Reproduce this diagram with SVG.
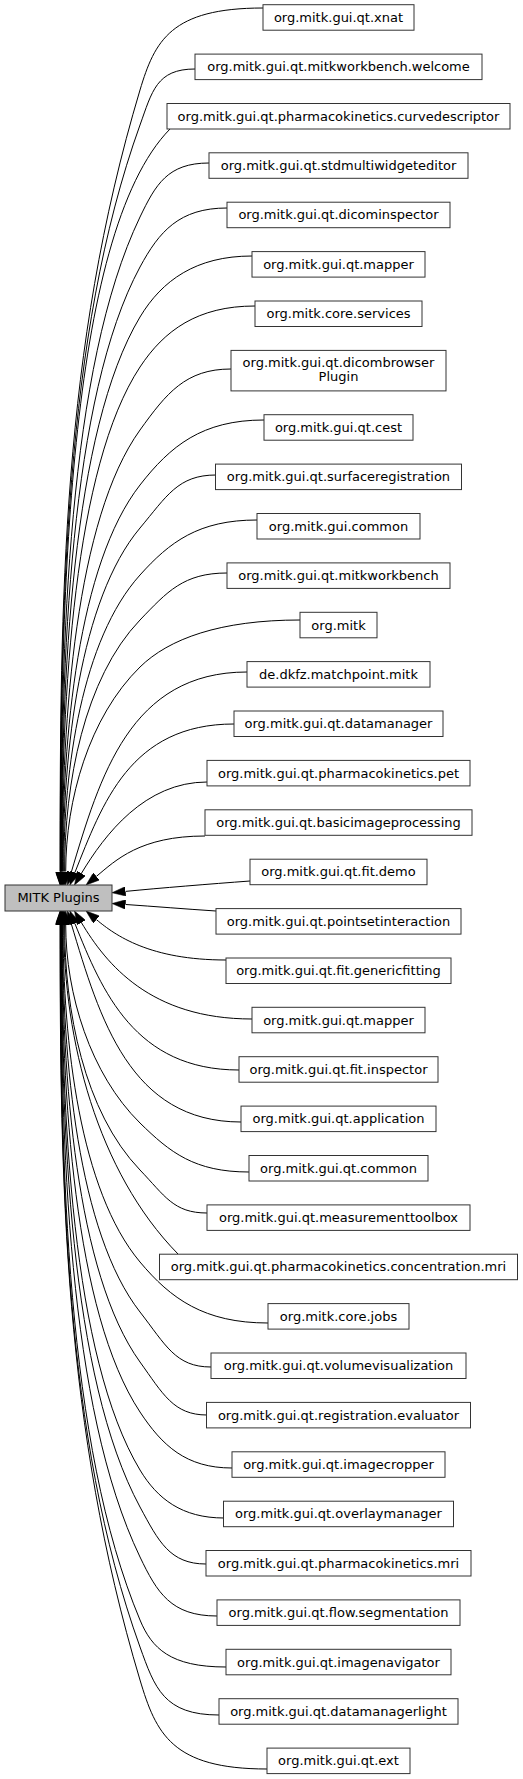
<svg xmlns="http://www.w3.org/2000/svg" width="523" height="1779" viewBox="0 0 523 1779">
<style>
.n rect{fill:#ffffff;stroke:#333333;stroke-width:1}
.n.root rect{fill:#bfbfbf}
text{font-family:"DejaVu Sans","Liberation Sans",sans-serif;font-size:13px;fill:#000000;text-anchor:middle}
.e path{fill:none;stroke:#000000;stroke-width:1;marker-end:url(#ah)}
</style>
<defs>
<marker id="ah" markerUnits="userSpaceOnUse" viewBox="0 0 13.5 9.4" refX="0" refY="4.7" markerWidth="13.5" markerHeight="9.4" orient="auto">
<path d="M0,0 L13.5,4.7 L0,9.4 z" fill="#000000" stroke="#000000" stroke-width="0.5"/>
</marker>
</defs>
<rect width="523" height="1779" fill="#ffffff"/>
<g id="connectors" class="e">
<path d="M263,8 C170.75,8 154.8,40.8 140,90 C62,350.4 60.1,598 60.1,871.5"/>
<path d="M195,69 C156.5,69 152.1,91.4 140,125 C64,336 60.3,610.2 60.3,871.5"/>
<path d="M170,129 C66,235 60.5,611.5 60.5,871.5"/>
<path d="M209,163 C167.6,163 155.6,184.6 140,217 C68,367 60.7,642.5 60.7,871.5"/>
<path d="M227,208 C179.2,208 159.1,231.6 140,267 C70,396.7 61,659.9 61,871.5"/>
<path d="M252,256 C196,256 162,280.4 140,317 C72,430.3 61.3,677.5 61.3,871.5"/>
<path d="M255,306 C197.5,306 164.2,330.4 140,367 C74,467 61.6,694.9 61.6,871.5"/>
<path d="M231,369 C185.5,369 166.4,393.4 140,430 C76,519 62,717 62,871.5"/>
<path d="M264,420 C202,420 170.4,446 140,485 C78,564.5 62.4,736.2 62.4,871.5"/>
<path d="M216,475 C178,475 166.7,496.2 140,528 C80,599.5 63,751.3 63,871.5"/>
<path d="M257,520 C198.5,520 169.7,542 140,575 C82,639.4 63.7,767.7 63.7,871.5"/>
<path d="M227,573 C183.5,573 167.1,591.8 140,620 C84,678.3 64.6,783.5 64.6,871.5"/>
<path d="M300,620 C220,620 168.8,638.8 140,667 C88.9,717.1 65.7,799.9 65.7,871.5"/>
<path d="M247,672 C130,672 100,776.3 71.3,872.1"/>
<path d="M234,724 C130,724 102.4,803.8 74.9,872.5"/>
<path d="M207,782 C145,782 104.9,834.2 81.4,873.4"/>
<path d="M205,836 C140,836 115.6,860.4 96.4,876.4"/>
<path d="M250,881 C210,884 160,888 125.45,891.4"/>
<path d="M216,911 C185,909 155,906.5 125.46,904.47"/>
<path d="M226,960 C150,960 115.6,935.6 96.4,919.6"/>
<path d="M252,1019 C150,1019 106.2,963.9 81.4,922.6"/>
<path d="M239,1070 C135,1070 102.1,991.5 74.9,923.5"/>
<path d="M241,1122 C130,1122 99.7,1018.7 71.3,923.9"/>
<path d="M249,1172 C194.5,1172 170,1152.4 140,1123 C90.4,1074.3 65.7,994 65.7,924.5"/>
<path d="M207,1213 C173.5,1213 164.8,1195.8 140,1170 C84,1111.7 64.6,1010.4 64.6,924.5"/>
<path d="M178,1254 C97.3,1171.7 63.7,1039.8 63.7,924.5"/>
<path d="M268,1323 C204,1323 170.7,1298.6 140,1262 C80,1190.5 63,1042.6 63,924.5"/>
<path d="M211,1367 C175.5,1367 165.7,1345 140,1312 C78,1232.5 62.4,1060.1 62.4,924.5"/>
<path d="M207,1415 C173.5,1415 162.9,1393.8 140,1362 C76,1273 62,1077.6 62,924.5"/>
<path d="M232,1468 C186,1468 162.2,1445.6 140,1412 C74,1312 61.6,1095.1 61.6,924.5"/>
<path d="M224,1518 C182,1518 157.3,1498.8 140,1470 C72,1356.7 61.3,1115.4 61.3,924.5"/>
<path d="M206,1564 C169.7,1564 158.5,1541.2 140,1507 C70,1377.3 61,1128.4 61,924.5"/>
<path d="M217,1616 C170.8,1616 157,1592.4 140,1557 C68,1407 60.7,1145.9 60.7,924.5"/>
<path d="M226,1667 C170.1,1667 151.8,1648.2 140,1620 C66,1443.7 60.5,1167.9 60.5,924.5"/>
<path d="M219,1715 C163.7,1715 154.7,1687.8 140,1647 C64,1436 60.3,1177.4 60.3,924.5"/>
<path d="M267,1769 C171.75,1769 156,1733.4 140,1680 C64.1,1426.7 60.1,1188.9 60.1,924.5"/>
</g>
<g id="node-mitk-plugins" class="n root"><rect x="5" y="885" width="107" height="26"/><text x="58.5" y="902">MITK Plugins</text></g>
<g id="node-xnat" class="n"><rect x="263" y="4.7" width="151" height="25.5"/><text x="338.5" y="21.95">org.mitk.gui.qt.xnat</text></g>
<g id="node-mitkworkbench-welcome" class="n"><rect x="195" y="54.1" width="287" height="25.5"/><text x="338.5" y="71.35">org.mitk.gui.qt.mitkworkbench.welcome</text></g>
<g id="node-curvedescriptor" class="n"><rect x="167" y="103.5" width="343" height="25.5"/><text x="338.5" y="120.75">org.mitk.gui.qt.pharmacokinetics.curvedescriptor</text></g>
<g id="node-stdmultiwidgeteditor" class="n"><rect x="209" y="152.8" width="259" height="25.5"/><text x="338.5" y="170.05">org.mitk.gui.qt.stdmultiwidgeteditor</text></g>
<g id="node-dicominspector" class="n"><rect x="227" y="202.2" width="223" height="25.5"/><text x="338.5" y="219.45">org.mitk.gui.qt.dicominspector</text></g>
<g id="node-mapper-1" class="n"><rect x="252" y="251.6" width="173" height="25.5"/><text x="338.5" y="268.85">org.mitk.gui.qt.mapper</text></g>
<g id="node-core-services" class="n"><rect x="255" y="301" width="167" height="25.5"/><text x="338.5" y="318.25">org.mitk.core.services</text></g>
<g id="node-dicombrowser" class="n"><rect x="231" y="350.4" width="215" height="40.5"/><text x="338.5" y="366.7">org.mitk.gui.qt.dicombrowser</text><text x="338.5" y="381.2">Plugin</text></g>
<g id="node-cest" class="n"><rect x="264" y="414.7" width="149" height="25.5"/><text x="338.5" y="431.95">org.mitk.gui.qt.cest</text></g>
<g id="node-surfaceregistration" class="n"><rect x="215.5" y="464.1" width="246" height="25.5"/><text x="338.5" y="481.35">org.mitk.gui.qt.surfaceregistration</text></g>
<g id="node-gui-common" class="n"><rect x="257" y="513.5" width="163" height="25.5"/><text x="338.5" y="530.75">org.mitk.gui.common</text></g>
<g id="node-mitkworkbench" class="n"><rect x="227" y="562.9" width="223" height="25.5"/><text x="338.5" y="580.15">org.mitk.gui.qt.mitkworkbench</text></g>
<g id="node-org-mitk" class="n"><rect x="300" y="612.3" width="77" height="25.5"/><text x="338.5" y="629.55">org.mitk</text></g>
<g id="node-matchpoint" class="n"><rect x="247" y="661.6" width="183" height="25.5"/><text x="338.5" y="678.85">de.dkfz.matchpoint.mitk</text></g>
<g id="node-datamanager" class="n"><rect x="234" y="711" width="209" height="25.5"/><text x="338.5" y="728.25">org.mitk.gui.qt.datamanager</text></g>
<g id="node-pk-pet" class="n"><rect x="207" y="760.4" width="263" height="25.5"/><text x="338.5" y="777.65">org.mitk.gui.qt.pharmacokinetics.pet</text></g>
<g id="node-basicimageprocessing" class="n"><rect x="205" y="809.8" width="267" height="25.5"/><text x="338.5" y="827.05">org.mitk.gui.qt.basicimageprocessing</text></g>
<g id="node-fit-demo" class="n"><rect x="250" y="859.2" width="177" height="25.5"/><text x="338.5" y="876.45">org.mitk.gui.qt.fit.demo</text></g>
<g id="node-pointsetinteraction" class="n"><rect x="216" y="908.6" width="245" height="25.5"/><text x="338.5" y="925.85">org.mitk.gui.qt.pointsetinteraction</text></g>
<g id="node-fit-genericfitting" class="n"><rect x="226" y="958" width="225" height="25.5"/><text x="338.5" y="975.25">org.mitk.gui.qt.fit.genericfitting</text></g>
<g id="node-mapper-2" class="n"><rect x="252" y="1007.3" width="173" height="25.5"/><text x="338.5" y="1024.55">org.mitk.gui.qt.mapper</text></g>
<g id="node-fit-inspector" class="n"><rect x="239" y="1056.7" width="199" height="25.5"/><text x="338.5" y="1073.95">org.mitk.gui.qt.fit.inspector</text></g>
<g id="node-application" class="n"><rect x="241" y="1106.1" width="195" height="25.5"/><text x="338.5" y="1123.35">org.mitk.gui.qt.application</text></g>
<g id="node-qt-common" class="n"><rect x="249" y="1155.5" width="179" height="25.5"/><text x="338.5" y="1172.75">org.mitk.gui.qt.common</text></g>
<g id="node-measurementtoolbox" class="n"><rect x="207" y="1204.9" width="263" height="25.5"/><text x="338.5" y="1222.15">org.mitk.gui.qt.measurementtoolbox</text></g>
<g id="node-concentration-mri" class="n"><rect x="159.5" y="1254.2" width="358" height="25.5"/><text x="338.5" y="1271.45">org.mitk.gui.qt.pharmacokinetics.concentration.mri</text></g>
<g id="node-core-jobs" class="n"><rect x="268" y="1303.6" width="141" height="25.5"/><text x="338.5" y="1320.85">org.mitk.core.jobs</text></g>
<g id="node-volumevisualization" class="n"><rect x="211" y="1353" width="255" height="25.5"/><text x="338.5" y="1370.25">org.mitk.gui.qt.volumevisualization</text></g>
<g id="node-registration-evaluator" class="n"><rect x="206.5" y="1402.4" width="264" height="25.5"/><text x="338.5" y="1419.65">org.mitk.gui.qt.registration.evaluator</text></g>
<g id="node-imagecropper" class="n"><rect x="232" y="1451.8" width="213" height="25.5"/><text x="338.5" y="1469.05">org.mitk.gui.qt.imagecropper</text></g>
<g id="node-overlaymanager" class="n"><rect x="223.5" y="1501.2" width="230" height="25.5"/><text x="338.5" y="1518.45">org.mitk.gui.qt.overlaymanager</text></g>
<g id="node-pk-mri" class="n"><rect x="206" y="1550.5" width="265" height="25.5"/><text x="338.5" y="1567.75">org.mitk.gui.qt.pharmacokinetics.mri</text></g>
<g id="node-flow-segmentation" class="n"><rect x="217" y="1599.9" width="243" height="25.5"/><text x="338.5" y="1617.15">org.mitk.gui.qt.flow.segmentation</text></g>
<g id="node-imagenavigator" class="n"><rect x="226" y="1649.3" width="225" height="25.5"/><text x="338.5" y="1666.55">org.mitk.gui.qt.imagenavigator</text></g>
<g id="node-datamanagerlight" class="n"><rect x="219" y="1698.7" width="239" height="25.5"/><text x="338.5" y="1715.95">org.mitk.gui.qt.datamanagerlight</text></g>
<g id="node-ext" class="n"><rect x="267" y="1748.1" width="143" height="25.5"/><text x="338.5" y="1765.35">org.mitk.gui.qt.ext</text></g>
</svg>
